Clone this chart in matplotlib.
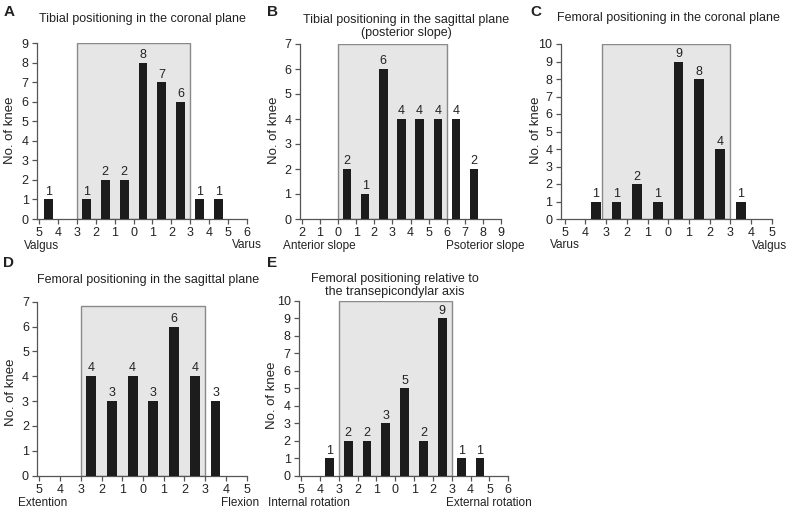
import matplotlib
matplotlib.use("Agg")
import matplotlib.pyplot as plt
from matplotlib.patches import Rectangle

plt.rcParams['font.family'] = ['Liberation Sans', 'DejaVu Sans']

W, H = 792, 512

# tick labels along each x axis
ticks_a = ["5", "4", "3", "2", "1", "0", "1", "2", "3", "4", "5", "6"]
ticks_b = ["2", "1", "0", "1", "2", "3", "4", "5", "6", "7", "8", "9"]
ticks_c = ["5", "4", "3", "2", "1", "0", "1", "2", "3", "4", "5"]
ticks_d = ["5", "4", "3", "2", "1", "0", "1", "2", "3", "4", "5"]
ticks_e = ["5", "4", "3", "2", "1", "0", "1", "2", "3", "4", "5", "6"]

# number of knees in each bin between neighbouring ticks
counts_a = [1, 0, 1, 2, 2, 8, 7, 6, 1, 1, 0]
counts_b = [0, 0, 2, 1, 6, 4, 4, 4, 4, 2, 0]
counts_c = [0, 1, 1, 2, 1, 9, 8, 4, 1, 0]
counts_d = [0, 0, 4, 3, 4, 3, 6, 4, 3, 0]
counts_e = [0, 1, 2, 2, 3, 5, 2, 9, 1, 1, 0]

ymax = {"A": 9, "B": 7, "C": 10, "D": 7, "E": 10}
# shaded acceptable range (start tick, end tick, height)
range_a = (2, 8, 9)
range_b = (2, 8, 7)
range_c = (1.8, 8, 10)
range_d = (2, 8, 6.85)
range_e = (2, 8, 10)

titles = {
    "A": "Tibial positioning in the coronal plane",
    "B": "Tibial positioning in the sagittal plane\n(posterior slope)",
    "C": "Femoral positioning in the coronal plane",
    "D": "Femoral positioning in the sagittal plane",
    "E": "Femoral positioning relative to\nthe transepicondylar axis",
}
end_labels = {
    "A": ("Valgus", "Varus"),
    "B": ("Anterior slope", "Psoterior slope"),
    "C": ("Varus", "Valgus"),
    "D": ("Extention", "Flexion"),
    "E": ("Internal rotation", "External rotation"),
}

TXT = "#222222"
AXC = "#555555"
FS = 9

fig = plt.figure(figsize=(W / 100, H / 100), dpi=100)


def ftext(x, y, s, **kw):
    kw.setdefault("color", TXT)
    kw.setdefault("fontsize", FS)
    fig.text(x / W, 1 - y / H, s, **kw)


def panel(key, ticks, counts, rng, x0, x1, y0, y1, xlo=-0.1):
    n = len(ticks) - 1
    sc = (x1 - x0) / n
    left = x0 + xlo * sc
    ax = fig.add_axes([left / W, 1 - y0 / H, (n - xlo) * sc / W, (y0 - y1) / H])
    ax.set_xlim(xlo, n)
    ax.set_ylim(0, ymax[key])
    a, b, h = rng
    ax.add_patch(Rectangle((a, 0), b - a, h, facecolor="#e6e6e6",
                           edgecolor="#8a8a8a", linewidth=1.0, zorder=1))
    for i, c in enumerate(counts):
        if c <= 0:
            continue
        ax.bar(i + 0.5, c, width=0.47, color="#1c1c1c", zorder=3)
        ax.text(i + 0.5, c + 0.08, str(c), ha="center", va="bottom",
                fontsize=FS, color=TXT, zorder=4)
    ax.set_xticks(range(len(ticks)))
    ax.set_xticklabels(ticks)
    ax.set_yticks(range(ymax[key] + 1))
    for s in ("top", "right"):
        ax.spines[s].set_visible(False)
    for s in ("left", "bottom"):
        ax.spines[s].set_color(AXC)
        ax.spines[s].set_linewidth(0.9)
    ax.tick_params(colors=AXC, labelcolor=TXT, labelsize=FS, length=3.5,
                   width=0.9, pad=2.5)
    ax.patch.set_alpha(0)
    return ax


panel("A", ticks_a, counts_a, range_a, 39, 247, 219, 43.3)
panel("B", ticks_b, counts_b, range_b, 301.7, 501.3, 219, 44)
panel("C", ticks_c, counts_c, range_c, 564.7, 771.7, 219, 44, xlo=-0.2)
panel("D", ticks_d, counts_d, range_d, 39.3, 246.7, 475.5, 301.8)
panel("E", ticks_e, counts_e, range_e, 301, 508.3, 475.5, 300.7)

# panel letters
for k, (x, y) in {"A": (9, 12), "B": (273, 12), "C": (536, 12),
                  "D": (9, 263), "E": (272, 263)}.items():
    ftext(x, y, k, fontsize=11, fontweight="bold", ha="center", va="center")

# titles
for k, (x, y) in {"A": (142.5, 19), "B": (406.5, 26.5), "C": (668.5, 18),
                  "D": (148, 280), "E": (395, 285.5)}.items():
    ftext(x, y, titles[k], ha="center", va="center", linespacing=1.1)

# y labels
for x, y in [(10, 130), (274, 130), (536, 130), (11, 392), (272, 395)]:
    ftext(x, y, "No. of knee", rotation=90, ha="center", va="center",
          fontsize=9.5)

# end labels under the x axis
ends = {"A": (24, 262, 245.5), "B": (283, 525, 245.5), "C": (550, 787, 245.5),
        "D": (18, 259, 503), "E": (268, 532, 503)}
for k, (xl, xr, y) in ends.items():
    ftext(xl, y, end_labels[k][0], ha="left", va="center", fontsize=8.5)
    ftext(xr, y, end_labels[k][1], ha="right", va="center", fontsize=8.5)

fig.savefig("out.png", dpi=100)
